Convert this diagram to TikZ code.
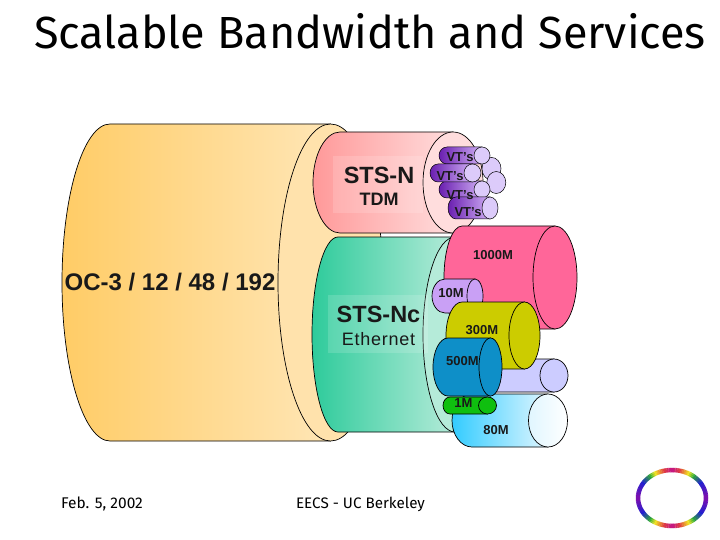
\documentclass[tikz,border=0pt]{standalone}
\usepackage{fontspec}
\setmainfont{Liberation Sans}
\newfontfamily\titlefont{Fira Sans}
\definecolor{oL}{HTML}{FFCC66}\definecolor{oR}{HTML}{FFE6B6}\definecolor{oE}{HTML}{FFE2AC}
\definecolor{pL}{HTML}{FF9999}\definecolor{pR}{HTML}{FFDDDD}
\definecolor{gL}{HTML}{2ECB9B}\definecolor{gR}{HTML}{B5EBD9}
\definecolor{vL}{HTML}{6A1FB0}\definecolor{vR}{HTML}{D0B0F5}\definecolor{vE}{HTML}{DCCBFA}
\definecolor{kM}{HTML}{FF6699}\definecolor{tM}{HTML}{C9A0F5}\definecolor{hM}{HTML}{CCCC00}
\definecolor{fM}{HTML}{0E8FC8}\definecolor{oM}{HTML}{0FBF0F}\definecolor{lM}{HTML}{CCCCFF}
\definecolor{eL}{HTML}{33CCFF}\definecolor{eR}{HTML}{E0F6FF}
\definecolor{r0}{HTML}{7A10B0}\definecolor{r1}{HTML}{2020D0}\definecolor{r2}{HTML}{30B030}
\definecolor{r3}{HTML}{F0E020}\definecolor{r4}{HTML}{E04040}\definecolor{r5}{HTML}{C01090}
\tikzset{
  x=1pt,y=-1pt,
  outl/.style={draw=black,line width=0.7pt},
  thinl/.style={line width=.5pt},
  lab/.style={inner sep=0pt,font=\bfseries,text=black!90},
  vtbody/.style={left color=vL,right color=vR,thinl},
  vtend/.style={fill=vE,thinl},
}
\newcommand{\cyl}[8]{%
  \pgfmathsetmacro{\mymid}{(#3+#4)/2}%
  \pgfmathsetmacro{\myh}{(#4-#3)/2}%
  \pgfmathsetmacro{\myk}{#2-0.55*(#2-#1)}%
  \pgfmathsetmacro{\myu}{\mymid-0.55*\myh}%
  \pgfmathsetmacro{\myv}{\mymid+0.55*\myh}%
  \path[outl,#7] (#5,#3) -- (#2,#3) .. controls (\myk,#3) and (#1,\myu) .. (#1,\mymid)
     .. controls (#1,\myv) and (\myk,#4) .. (#2,#4) -- (#5,#4) -- cycle;
  \path[outl,#8] (#5,\mymid) ellipse [x radius=#6pt,y radius=\myh pt];
}
\begin{document}
\begin{tikzpicture}
\useasboundingbox (0,0) rectangle (720,540);
\fill[white] (0,0) rectangle (720,540);
\node[inner sep=0pt,font=\titlefont\fontsize{45}{48}\selectfont] (title) at (370,31) {Scalable Bandwidth and Services};

\cyl{62}{110}{124}{441}{330.5}{52.5}{left color=oL,right color=oR}{fill=oE}
\cyl{313}{340}{132}{233}{453}{30}{left color=pL,right color=pR}{fill=pR}
\fill[white,opacity=.15] (333,156) rectangle (423,213);
\node[lab,font=\bfseries\fontsize{23.5}{25}\selectfont] (stsn) at (379,175) {STS-N};
\node[lab,font=\bfseries\fontsize{18}{20}\selectfont] (tdm) at (379,199.5) {TDM};
\path[outl,fill=vE,thinl] (491.5,168.7) ellipse [x radius=9.5pt,y radius=11.3pt];
\path[outl,fill=vE,thinl] (496.3,182.5) ellipse [x radius=9.5pt,y radius=11pt];
\cyl{439}{447}{147}{164}{482}{8}{vtbody}{vtend}
\cyl{439}{447}{181}{198}{482}{8}{vtbody}{vtend}
\cyl{430}{438}{164}{182}{472.5}{8.5}{vtbody}{vtend}
\cyl{448}{456}{197}{219}{490}{8}{vtbody}{vtend}
\foreach \n/\px/\py in {a/460/157,b/450/176,c/460/195,d/468/212}
  \node[lab,font=\bfseries\fontsize{13}{14}\selectfont] (vt\n) at (\px,\py) {VT's};

\cyl{312}{338}{237}{432}{455}{32}{left color=gL,right color=gR}{fill=gR}
\fill[white,opacity=.15] (328,295) rectangle (428,353);
\node[lab,font=\bfseries\fontsize{23.5}{25}\selectfont] (stsnc) at (378.5,314) {STS-Nc};
\node[lab,font=\fontsize{18}{20}\selectfont\addfontfeature{LetterSpace=4}] (eth) at (378.5,339) {Ethernet};

\node[lab,font=\bfseries\fontsize{24}{26}\selectfont] (oc) at (170,282) {OC-3 / 12 / 48 / 192};

\cyl{452}{472}{394}{447}{548}{19.5}{left color=eL,right color=eR}{left color=eR,right color=white}
\cyl{470}{490}{359}{392}{554}{14}{fill=lM}{fill=lM}
\cyl{444}{462}{226}{329}{555}{22}{fill=kM}{fill=kM}
\cyl{432}{445}{279}{313}{475}{8}{fill=tM}{fill=tM}
\cyl{446}{462}{302}{369}{524.5}{15.5}{fill=hM}{fill=hM}
\cyl{433}{448}{338}{396}{490.5}{11.5}{fill=fM}{fill=fM}
\cyl{443}{450}{397}{414}{487.5}{9}{fill=oM}{fill=oM}

\foreach \n/\t/\px/\py in {k/1000M/493/255,ten/10M/451/293,th/300M/482/330,fh/500M/462.5/361,one/1M/463.5/403,ei/80M/496/430}
  \node[lab,font=\bfseries\fontsize{13}{14}\selectfont] (m\n) at (\px,\py) {\t};

\node[inner sep=0pt,font=\titlefont\fontsize{15.5}{17}\selectfont] (date) at (102,504) {Feb. 5, 2002};
\node[inner sep=0pt,font=\titlefont\fontsize{15.2}{17}\selectfont] (eecs) at (360.5,504) {EECS - UC Berkeley};

% rainbow ring
\foreach \ca/\cb/\sa/\sb in {r0/r1/0/30,r1/r2/30/50,r2/r3/50/60,r3/r4/60/75,r4/r5/75/90}{
  \foreach \p in {0,20,...,80}{
    \pgfmathsetmacro{\aone}{\sa+(\sb-\sa)*\p/100}
    \pgfmathsetmacro{\atwo}{\sa+(\sb-\sa)*(\p+22)/100}
    \pgfmathtruncatemacro{\q}{100-\p}
    \foreach \sx/\sy in {1/1,-1/1,1/-1,-1/-1}
      \draw[\ca!\q!\cb,line width=4.5pt] ({672+\sx*34*cos(\aone)},{498-\sy*28*sin(\aone)})
        -- ({672+\sx*34*cos(\atwo)},{498-\sy*28*sin(\atwo)});
  }
}
\end{tikzpicture}
\end{document}
